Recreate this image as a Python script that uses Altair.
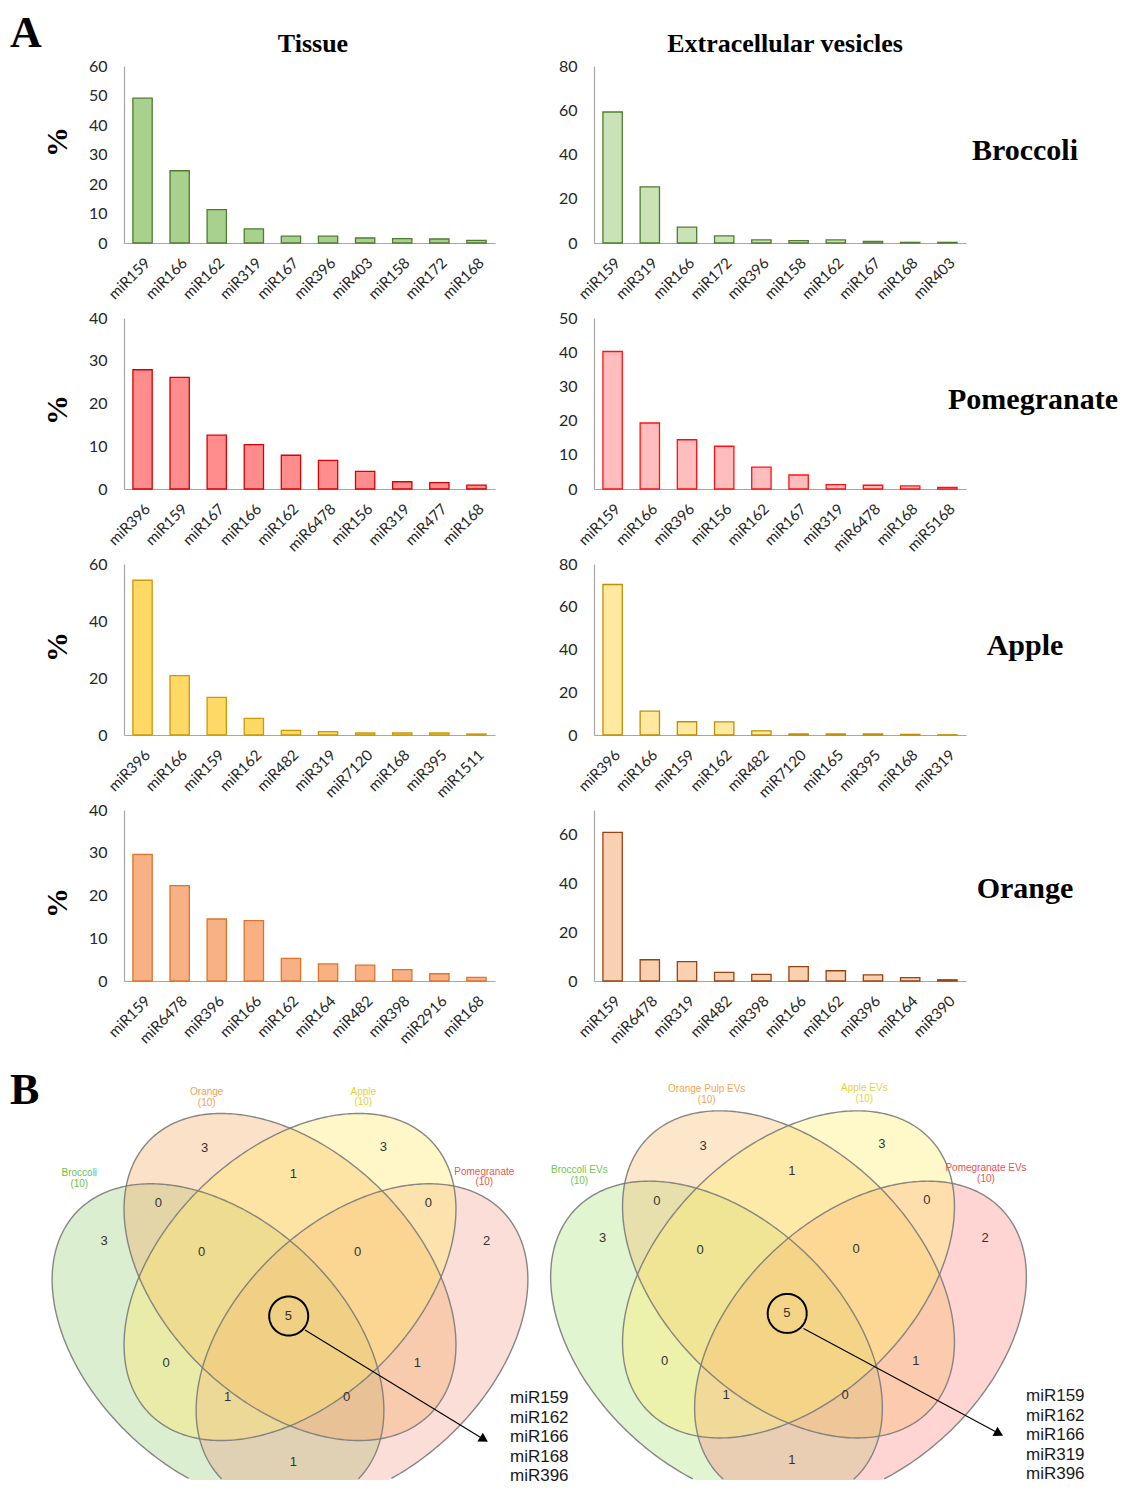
import altair as alt
import numpy as np
import pandas as pd

# ---------------- data ----------------
broc_t_cat = ["miR159", "miR166", "miR162", "miR319", "miR167", "miR396", "miR403", "miR158", "miR172", "miR168"]
broc_t_val = [49.1, 24.5, 11.3, 4.8, 2.3, 2.3, 1.7, 1.45, 1.35, 0.9]
broc_e_cat = ["miR159", "miR319", "miR166", "miR172", "miR396", "miR158", "miR162", "miR167", "miR168", "miR403"]
broc_e_val = [59.2, 25.4, 7.2, 3.2, 1.4, 1.1, 1.4, 0.7, 0.3, 0.3]

pome_t_cat = ["miR396", "miR159", "miR167", "miR166", "miR162", "miR6478", "miR156", "miR319", "miR477", "miR168"]
pome_t_val = [27.9, 26.1, 12.6, 10.4, 7.9, 6.7, 4.1, 1.7, 1.5, 0.9]
pome_e_cat = ["miR159", "miR166", "miR396", "miR156", "miR162", "miR167", "miR319", "miR6478", "miR168", "miR5168"]
pome_e_val = [40.2, 19.3, 14.4, 12.5, 6.4, 4.1, 1.3, 1.1, 0.9, 0.5]

appl_t_cat = ["miR396", "miR166", "miR159", "miR162", "miR482", "miR319", "miR7120", "miR168", "miR395", "miR1511"]
appl_t_val = [54.3, 20.8, 13.2, 5.8, 1.6, 1.2, 0.7, 0.7, 0.7, 0.35]
appl_e_cat = ["miR396", "miR166", "miR159", "miR162", "miR482", "miR7120", "miR165", "miR395", "miR168", "miR319"]
appl_e_val = [70.4, 11.2, 6.2, 6.1, 1.9, 0.5, 0.5, 0.5, 0.3, 0.1]

oran_t_cat = ["miR159", "miR6478", "miR396", "miR166", "miR162", "miR164", "miR482", "miR398", "miR2916", "miR168"]
oran_t_val = [29.6, 22.3, 14.5, 14.1, 5.3, 4.0, 3.7, 2.65, 1.7, 0.86]
oran_e_cat = ["miR159", "miR6478", "miR319", "miR482", "miR398", "miR166", "miR162", "miR396", "miR164", "miR390"]
oran_e_val = [60.8, 8.7, 7.9, 3.5, 2.7, 5.9, 4.2, 2.5, 1.4, 0.5]

fruit_names = ["Broccoli", "Pomegranate", "Apple", "Orange"]

venn_counts = ["3", "3", "1", "0", "0", "3", "2", "0", "0", "5", "0", "1", "1", "0", "1"]
venn_tissue_sets = ["Broccoli", "Orange", "Apple", "Pomegranate"]
venn_ev_sets = ["Broccoli EVs", "Orange Pulp EVs", "Apple EVs", "Pomegranate EVs"]
venn_set_sizes = ["(10)", "(10)", "(10)", "(10)"]
shared_tissue = ["miR159", "miR162", "miR166", "miR168", "miR396"]
shared_ev = ["miR159", "miR162", "miR166", "miR319", "miR396"]

# ---------------- style / layout ----------------
FONT = "Lato"
SERIF = "Liberation Serif"
SANS = "Liberation Sans"
LABEL_C = "#262626"
AXIS_C = "#a6a6a6"
GW, TW, EW = 17, 371, 372
HS, VS = 99, 75
ROW_H = [177, 171, 171, 171]
VTOP, VH = 1056, 424
YMAX = VTOP + VH

ONE = pd.DataFrame({"k": [0]})


def note(text, x, y, size, font=SERIF, weight="bold", color="black",
         align="center", baseline="alphabetic", angle=None):
    kw = dict(text=text, font=font, fontSize=size, fontWeight=weight,
              color=color, align=align, baseline=baseline)
    if angle is not None:
        kw["angle"] = angle
    return alt.Chart(ONE).mark_text(**kw).encode(x=alt.value(x), y=alt.value(y))


def bars(cats, vals, dom, ticks, fill, stroke):
    df = pd.DataFrame({"mir": cats, "pct": vals})
    return alt.Chart(df).mark_bar(fill=fill, stroke=stroke, strokeWidth=1.3).encode(
        x=alt.X("mir:N", sort=cats, title=None,
                scale=alt.Scale(paddingInner=0.48, paddingOuter=0.24),
                axis=alt.Axis(labelAngle=315, labelAlign="right", labelBaseline="top",
                              labelPadding=12, labelFont=FONT, labelFontSize=15,
                              labelColor=LABEL_C, ticks=False, tickSize=0,
                              domainColor=AXIS_C, domainWidth=1.2, grid=False,
                              labelOverlap=False, labelLimit=200)),
        y=alt.Y("pct:Q", title=None,
                scale=alt.Scale(domain=dom, nice=False),
                axis=alt.Axis(values=ticks, labelFont=FONT, labelFontSize=16,
                              labelColor=LABEL_C, ticks=False, tickSize=0,
                              labelPadding=17, labelFlush=False,
                              domainColor=AXIS_C, domainWidth=1.2, grid=False)),
    )


def gutter(h, anchor):
    y0 = -58 if anchor else 0
    return alt.Chart(ONE).mark_rect(opacity=0).encode(
        x=alt.value(0), x2=alt.value(1), y=alt.value(y0), y2=alt.value(y0 + 1)
    ).properties(width=GW, height=h)


rows_cfg = [
    dict(t=(broc_t_cat, broc_t_val, [0, 60], [0, 10, 20, 30, 40, 50, 60]),
         e=(broc_e_cat, broc_e_val, [0, 80], [0, 20, 40, 60, 80]),
         tf="#a9d18e", ts="#4f7d2f", ef="#c9e3b6", es="#4f7d2f",
         nx=431, ny=94, pct=76),
    dict(t=(pome_t_cat, pome_t_val, [0, 40], [0, 10, 20, 30, 40]),
         e=(pome_e_cat, pome_e_val, [0, 50], [0, 10, 20, 30, 40, 50]),
         tf="#ff8d8d", ts="#d80000", ef="#ffbdbd", es="#ff1010",
         nx=439, ny=91, pct=92),
    dict(t=(appl_t_cat, appl_t_val, [0, 60], [0, 20, 40, 60]),
         e=(appl_e_cat, appl_e_val, [0, 80], [0, 20, 40, 60, 80]),
         tf="#ffd966", ts="#c99a06", ef="#ffe89f", es="#bf9000",
         nx=431, ny=91, pct=83),
    dict(t=(oran_t_cat, oran_t_val, [0, 40], [0, 10, 20, 30, 40]),
         e=(oran_e_cat, oran_e_val, [0, 70], [0, 20, 40, 60]),
         tf="#f8b085", ts="#e0722a", ef="#f9d0b0", es="#9a420f",
         nx=431, ny=88, pct=93),
]

cells = []
for i, cfg in enumerate(rows_cfg):
    h = ROW_H[i]
    t_layers = [bars(*cfg["t"], cfg["tf"], cfg["ts"]),
                note("%", -66, cfg["pct"], 30, baseline="middle", angle=270)]
    e_layers = [bars(*cfg["e"], cfg["ef"], cfg["es"]),
                note(fruit_names[i], cfg["nx"], cfg["ny"], 30)]
    if i == 0:
        t_layers += [note("Tissue", 189, -14, 26),
                     note("A", -114, -19, 44, align="left")]
        e_layers += [note("Extracellular vesicles", 191, -14, 26)]
    cells += [gutter(h, i == 0),
              alt.layer(*t_layers).properties(width=TW, height=h),
              alt.layer(*e_layers).properties(width=EW, height=h)]

# ---------------- Venn diagrams (drawn in the first column's frame) ----------------
XS = alt.Scale(domain=[8, 8 + GW], nice=False, zero=False)
YS = alt.Scale(domain=[VTOP, YMAX], nice=False, zero=False, reverse=True)


def ellipse_pts(cx, cy, a, b, theta_deg, n=360):
    t = np.linspace(0, 2 * np.pi, n, endpoint=False)
    th = np.radians(theta_deg)
    x = cx + a * np.cos(t) * np.cos(th) - b * np.sin(t) * np.sin(th)
    y = cy + a * np.cos(t) * np.sin(th) + b * np.sin(t) * np.cos(th)
    return x, y


def fill_df(x, y):
    yy = np.minimum(y, YMAX)
    return pd.DataFrame({"x": np.append(x, x[0]), "y": np.append(yy, yy[0]),
                         "i": np.arange(len(x) + 1)})


def stroke_df(x, y):
    keep = y <= YMAX
    n = len(x)
    if keep.all():
        order = np.append(np.arange(n), 0)
    else:
        starts = [k for k in range(n) if keep[k] and not keep[k - 1]]
        k0 = starts[0]
        order = np.array([(k0 + j) % n for j in range(n) if keep[(k0 + j) % n]])
    return pd.DataFrame({"x": x[order], "y": y[order], "i": np.arange(len(order))})


# ellipse geometry (left diagram, page pixels): green, pink, orange, apple (draw order)
ELL = [(218, 1345, 194, 126, 43), (362, 1345, 194, 126, -43),
       (290, 1277, 196, 126, 44), (290, 1277, 196, 126, -44)]
COUNT_POS = [(204.7, 1148.3), (383.3, 1146.7), (293.3, 1174), (158.3, 1203.3),
             (428.3, 1202.7), (104, 1241), (486.7, 1241), (201.7, 1252.3),
             (357.7, 1251.7), (288.3, 1316), (166, 1363.3), (417.3, 1363.3),
             (227.7, 1397.3), (346.7, 1397.3), (293.3, 1462.3)]


def xy():
    return dict(x=alt.X("x:Q", scale=XS, axis=None), y=alt.Y("y:Q", scale=YS, axis=None))


def venn(dx, dy, names, fills, alphas, name_pos, name_cols, items, list_x, list_y, arrow):
    fl, st = [], []
    for (cx, cy, a, b, th), f, al in zip(ELL, fills, alphas):
        x, y = ellipse_pts(cx + dx, cy + dy, a, b, th)
        fl.append(alt.Chart(fill_df(x, y)).mark_line(
            fill=f, fillOpacity=al, strokeOpacity=0).encode(**xy(), order="i:Q"))
        st.append(alt.Chart(stroke_df(x, y)).mark_line(
            stroke="#7a7a7a", strokeWidth=1.4, strokeOpacity=0.9).encode(**xy(), order="i:Q"))
    layers = fl + st
    cdf = pd.DataFrame({"x": [p[0] + dx for p in COUNT_POS],
                        "y": [p[1] + dy for p in COUNT_POS], "t": venn_counts})
    layers.append(alt.Chart(cdf).mark_text(font=SANS, fontSize=13, color="#333333",
                                            baseline="middle").encode(**xy(), text="t:N"))
    lx, ly, lt, lc = [], [], [], []
    for nm, sz, (px, py), c in zip(names, venn_set_sizes, name_pos, name_cols):
        lx += [px, px]
        ly += [py, py + 10.5]
        lt += [nm, sz]
        lc += [c, c]
    ldf = pd.DataFrame({"x": lx, "y": ly, "t": lt, "c": lc})
    layers.append(alt.Chart(ldf).mark_text(font=SANS, fontSize=10, baseline="middle").encode(
        **xy(), text="t:N", color=alt.Color("c:N", scale=None)))
    cx_, cy_ = ellipse_pts(288.7 + dx, 1316 + dy, 19.5, 19.5, 0, n=120)
    layers.append(alt.Chart(stroke_df(cx_, cy_)).mark_line(stroke="black", strokeWidth=2).encode(
        **xy(), order="i:Q"))
    (x1, y1, x2, y2) = arrow
    adf = pd.DataFrame({"x": [x1], "y": [y1], "x2": [x2], "y2": [y2]})
    layers.append(alt.Chart(adf).mark_rule(stroke="black", strokeWidth=1.1).encode(
        **xy(), x2="x2:Q", y2="y2:Q"))
    ang = float(np.degrees(np.arctan2(y2 - y1, x2 - x1)))
    hdf = pd.DataFrame({"x": [x2], "y": [y2]})
    layers.append(alt.Chart(hdf).mark_point(shape="triangle-right", filled=True, size=110,
                                            angle=ang, color="black", opacity=1).encode(**xy()))
    mdf = pd.DataFrame({"x": [list_x] * len(items), "y": list_y, "t": items})
    layers.append(alt.Chart(mdf).mark_text(font=SANS, fontSize=17, color="#1a1a1a",
                                            align="left").encode(**xy(), text="t:N"))
    return layers


# fills in draw order: green, pink, orange, apple
left = venn(0, 0, venn_tissue_sets,
            ["#8fcb6b", "#f28a70", "#f5a55a", "#ffea64"], [0.32, 0.28, 0.33, 0.36],
            [(79.3, 1173.3), (206.7, 1092.3), (363.3, 1091.7), (484.3, 1171.7)],
            ["#6cbf4a", "#f4a055", "#e3cf37", "#f0554b"],
            shared_tissue, 510, [1398, 1417.5, 1437, 1456.5, 1476],
            (305, 1330, 484, 1439.5))
right = venn(498.5, -2.6, venn_ev_sets,
             ["#a8e27c", "#ff7d75", "#f6b45c", "#ffee6a"], [0.35, 0.32, 0.32, 0.36],
             [(579.3, 1170), (706.7, 1089), (864.3, 1088.3), (986, 1168.3)],
             ["#6cc94a", "#f4a64e", "#e6d43c", "#f2504a"],
             shared_ev, 1026, [1396, 1415.5, 1435, 1454.5, 1474],
             (803.5, 1328.5, 999, 1433.5))

venn_chart = alt.layer(*left, *right,
                       note("B", 10 - 8, 1104 - VTOP, 44, align="left")
                       ).properties(width=GW, height=VH)
cells.append(venn_chart)

chart = alt.concat(*cells, columns=3, spacing={"row": VS, "column": HS},
                   bounds="flush").properties(
    padding=0, background="white"
).configure_view(strokeWidth=0)

chart.save("out.html", embed_options={"renderer": "svg", "actions": False})
